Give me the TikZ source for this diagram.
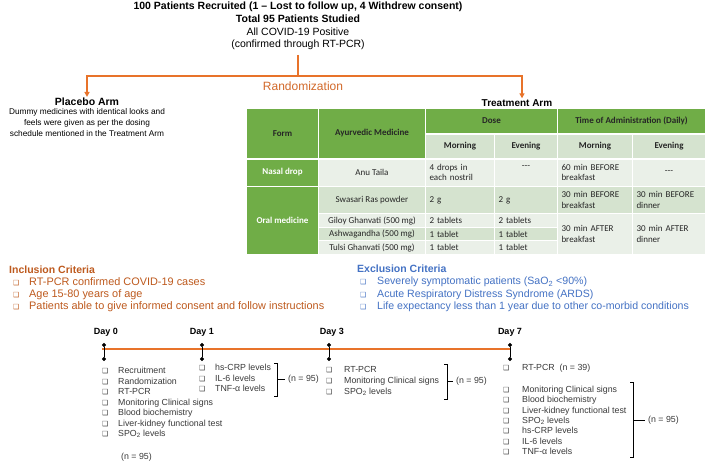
\documentclass[tikz,border=0pt]{standalone}
\usepackage{fontspec}
\setmainfont{Liberation Sans}
\newfontfamily\calib{Carlito}
\newfontfamily\symf{DejaVu Sans}
\usetikzlibrary{positioning,arrows.meta}

\definecolor{rorange}{HTML}{E8732A}
\definecolor{rrand}{HTML}{D2692A}
\definecolor{rbrown}{HTML}{BE5A1E}
\definecolor{rblue}{HTML}{4472C4}
\definecolor{tgreen}{HTML}{70AD47}
\definecolor{tlight}{HTML}{D5E3CF}
\definecolor{tpale}{HTML}{EAF0E8}
\definecolor{txt}{HTML}{3A3A3A}

\newcommand{\bx}{{\symf\fontsize{7}{7}\selectfont ❑}}
\newcommand{\itm}[2][16pt]{\makebox[#1][l]{\bx}#2}

\tikzset{
 orline/.style={draw=rorange, line width=1.5pt},
 orarrow/.style={orline, -{Triangle[length=5pt,width=5pt]}},
 cell/.style={draw=white, line width=1pt, anchor=north west, inner sep=0pt, align=center,
   text=black!85, font=\calib\fontsize{9}{10.5}\selectfont},
 hcell/.style={cell, fill=tgreen, font=\calib\bfseries\fontsize{9}{10.5}\selectfont},
 scell/.style={cell, fill=tlight, font=\calib\bfseries\fontsize{9}{10.5}\selectfont},
 fcell/.style={cell, fill=tgreen, text=white, font=\calib\bfseries\fontsize{9}{10.5}\selectfont},
 lcell/.style={cell, align=left, inner xsep=4pt},
 crit/.style={anchor=north west, align=left, inner sep=0pt, font=\fontsize{10.6}{12.2}\selectfont},
 crithead/.style={anchor=west, inner sep=0pt, font=\bfseries\fontsize{10.5}{12}\selectfont},
 day/.style={inner sep=0pt, font=\bfseries\fontsize{9}{10}\selectfont},
 tlist/.style={anchor=north west, align=left, inner sep=0pt, text=txt, font=\fontsize{8.8}{10.5}\selectfont},
 pin/.style={black, line width=0.8pt, {Circle[length=4pt]}-{Circle[length=4pt]}},
 brk/.style={black, line width=0.8pt},
 nlab/.style={anchor=west, inner xsep=3pt, inner ysep=0pt, text=txt, font=\fontsize{8.8}{10}\selectfont}
}

\begin{document}
\begin{tikzpicture}[x=1pt,y=-1pt]
\fill[white] (0,0) rectangle (714,465);

\node[align=center, inner sep=0pt, outer sep=5pt, font=\fontsize{10.5}{12.7}\selectfont] (recruit) at (298,26)
 {\textbf{100 Patients Recruited (1 – Lost to follow up, 4 Withdrew consent)}\\\textbf{Total 95 Patients Studied}\\All COVID-19 Positive\\(confirmed through RT-PCR)};
\coordinate (split) at (298,76);
\node[text=rrand, inner sep=0pt, font=\fontsize{12}{14}\selectfont] (rand) at (303,86) {Randomization};
\node[inner sep=1pt, font=\bfseries\fontsize{10.5}{12}\selectfont] (placebo) at (87,102) {Placebo Arm};
\node[below=1pt of placebo, align=center, inner sep=0pt, font=\fontsize{8.3}{11}\selectfont] (plbtext)
 {Dummy medicines with identical looks and\\feels were given as per the dosing\\schedule mentioned in the Treatment Arm};
\node[inner sep=1pt, font=\bfseries\fontsize{10}{12}\selectfont] (treat) at (517,103) {Treatment Arm};
\draw[orline] (recruit.south) -- (split);
\draw[orarrow] (split) -| (placebo.north);
\draw[orarrow] (split) -| ([xshift=5pt]treat.north);

\node[hcell, minimum width=72pt, minimum height=50pt] (form) at (246,108) {Form};
\node[hcell, minimum width=107pt, minimum height=50pt] (ayur) at (318,108) {Ayurvedic Medicine};
\node[hcell, minimum width=132pt, minimum height=25pt] (dose) at (425,108) {Dose};
\node[hcell, minimum width=148pt, minimum height=25pt] (time) at (557,108) {Time of Administration (Daily)};
\node[scell, minimum width=69pt, minimum height=25pt] (doseam) at (425,133) {Morning};
\node[scell, minimum width=63pt, minimum height=25pt] (dosepm) at (494,133) {Evening};
\node[scell, minimum width=75pt, minimum height=25pt] (timeam) at (557,133) {Morning};
\node[scell, minimum width=73pt, minimum height=25pt] (timepm) at (632,133) {Evening};
\node[fcell, minimum width=72pt, minimum height=28pt] (nasal) at (246,158) {Nasal drop};
\node[cell, fill=tpale, minimum width=107pt, minimum height=28pt] (anu) at (318,158) {Anu Taila};
\node[lcell, fill=tpale, text width=61pt, minimum height=28pt] (anuam) at (425,158) {4 drops in\\each nostril};
\node[cell, fill=tpale, minimum width=63pt, minimum height=28pt] (anupm) at (494,158) {-{}-{}-\\~};
\node[lcell, fill=tpale, text width=67pt, minimum height=28pt] (anuta) at (557,158) {60 min BEFORE\\breakfast};
\node[cell, fill=tpale, minimum width=73pt, minimum height=28pt] (anutp) at (632,158) {-{}-{}-};
\node[fcell, minimum width=72pt, minimum height=68pt] (oral) at (246,186) {Oral medicine};
\node[cell, fill=tlight, minimum width=107pt, minimum height=27pt] (swa) at (318,186) {Swasari Ras powder};
\node[lcell, fill=tlight, text width=61pt, minimum height=27pt] (swaam) at (425,186) {2 g};
\node[lcell, fill=tlight, text width=55pt, minimum height=27pt] (swapm) at (494,186) {2 g};
\node[lcell, fill=tlight, text width=67pt, minimum height=27pt] (swata) at (557,186) {30 min BEFORE\\breakfast};
\node[lcell, fill=tlight, text width=65pt, minimum height=27pt] (swatp) at (632,186) {30 min BEFORE\\dinner};
\node[cell, fill=tpale, minimum width=107pt, minimum height=14pt] (gil) at (318,213) {Giloy Ghanvati (500 mg)};
\node[lcell, fill=tpale, text width=61pt, minimum height=14pt] (gilam) at (425,213) {2 tablets};
\node[lcell, fill=tpale, text width=55pt, minimum height=14pt] (gilpm) at (494,213) {2 tablets};
\node[cell, fill=tlight, minimum width=107pt, minimum height=13pt] (ash) at (318,227) {Ashwagandha (500 mg)};
\node[lcell, fill=tlight, text width=61pt, minimum height=13pt] (asham) at (425,227) {1 tablet};
\node[lcell, fill=tlight, text width=55pt, minimum height=13pt] (ashpm) at (494,227) {1 tablet};
\node[cell, fill=tpale, minimum width=107pt, minimum height=14pt] (tul) at (318,240) {Tulsi Ghanvati (500 mg)};
\node[lcell, fill=tpale, text width=61pt, minimum height=14pt] (tulam) at (425,240) {1 tablet};
\node[lcell, fill=tpale, text width=55pt, minimum height=14pt] (tulpm) at (494,240) {1 tablet};
\node[lcell, fill=tpale, text width=67pt, minimum height=41pt] (aftam) at (557,213) {30 min AFTER\\breakfast};
\node[lcell, fill=tpale, text width=65pt, minimum height=41pt] (aftpm) at (632,213) {30 min AFTER\\dinner};
\draw[white, line width=2pt] (dose.south west) -- (time.south east);
\draw[white, line width=2pt] (form.south west) -- (timepm.south east);

\node[crithead, text=rbrown] (incl) at (9,270) {Inclusion Criteria};
\node[crit, text=rbrown, font=\fontsize{10.9}{12.2}\selectfont] (incllist) at (13,277) {\itm{RT-PCR confirmed COVID-19 cases}\\\itm{Age 15-80 years of age}\\\itm{Patients able to give informed consent and follow instructions}};
\node[crithead, text=rblue] (excl) at (357,269) {Exclusion Criteria};
\node[crit, text=rblue] (excllist) at (360,277) {\itm[17pt]{Severely symptomatic patients (SaO\textsubscript{2} <90\%)}\\\itm[17pt]{Acute Respiratory Distress Syndrome (ARDS)}\\\itm[17pt]{Life expectancy less than 1 year due to other co-morbid conditions}};

\node[day] (day0) at (106,332) {Day 0};
\node[day] (day1) at (202,332) {Day 1};
\node[day] (day3) at (332,332) {Day 3};
\node[day] (day7) at (510,332) {Day 7};
\coordinate (d0) at (104,349);
\coordinate (d1) at (202,349);
\coordinate (d3) at (329,349);
\coordinate (d7) at (510,349);
\draw[orline] ([xshift=-2pt]d0) -- (d7);
\foreach \d in {d0,d1,d3,d7}
 \draw[pin] ([yshift=6pt]\d) -- ([yshift=-12pt]\d);

\node[tlist] (list0) at (102,367) {\itm{Recruitment}\\\itm{Randomization}\\\itm{RT-PCR}\\\itm{Monitoring Clinical signs}\\\itm{Blood biochemistry}\\\itm{Liver-kidney functional test}\\\itm{SPO\textsubscript{2} levels}};
\node[nlab] (n0) at (118,457) {(n = 95)};

\node[tlist] (list1) at (199,364) {\itm{hs-CRP levels}\\\itm{IL-6 levels}\\\itm{TNF-α levels}};
\draw[brk] (274,363) -- (277,363) -- (277,396) -- (274,396);
\coordinate (b1) at (277,379);
\node[nlab] (n1) at (285,379) {(n = 95)};
\draw[brk] (b1) -- (n1.west);

\node[tlist, font=\fontsize{8.8}{11}\selectfont] (list3) at (326,366) {\itm[18pt]{RT-PCR}\\\itm[18pt]{Monitoring Clinical signs}\\\itm[18pt]{SPO\textsubscript{2} levels}};
\draw[brk] (444,364) -- (447,364) -- (447,399) -- (444,399);
\coordinate (b3) at (447,381);
\node[nlab] (n3) at (453,381) {(n = 95)};
\draw[brk] (b3) -- (n3.west);

\node[tlist] (list7a) at (503,364) {\itm[19pt]{RT-PCR~~(n = 39)}};
\node[tlist, font=\fontsize{8.8}{10.35}\selectfont] (list7) at (503,386) {\itm[19pt]{Monitoring Clinical signs}\\\itm[19pt]{Blood biochemistry}\\\itm[19pt]{Liver-kidney functional test}\\\itm[19pt]{SPO\textsubscript{2} levels}\\\itm[19pt]{hs-CRP levels}\\\itm[19pt]{IL-6 levels}\\\itm[19pt]{TNF-α levels}};
\draw[brk] (630,382) -- (633,382) -- (633,457) -- (630,457);
\coordinate (b7) at (633,420);
\node[nlab] (n7) at (645,420) {(n = 95)};
\draw[brk] (b7) -- (n7.west);
\end{tikzpicture}
\end{document}
